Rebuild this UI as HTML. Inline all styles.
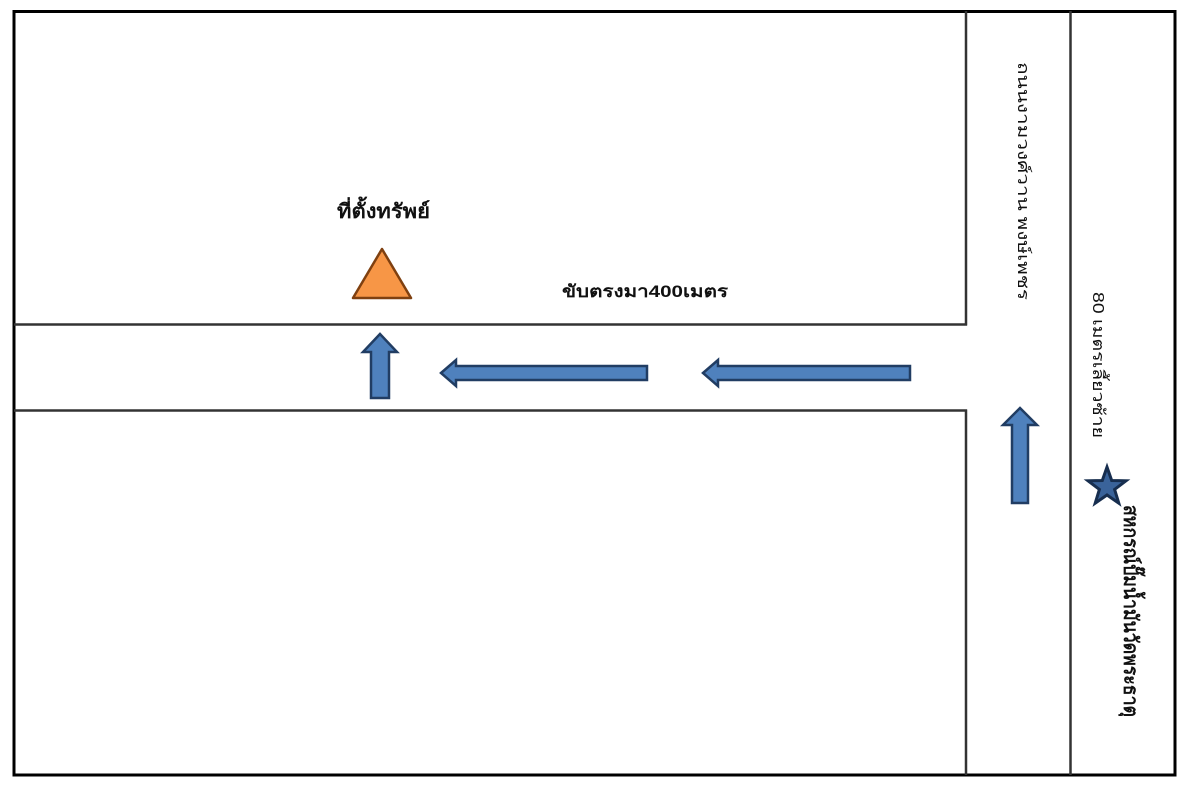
<!DOCTYPE html>
<html>
<head>
<meta charset="utf-8">
<style>
html,body{margin:0;padding:0;background:#fff;}
body{width:1194px;height:800px;overflow:hidden;}
svg{display:block;}
text{font-family:"Liberation Sans","Noto Sans CJK SC",sans-serif;fill:#111;}
</style>
</head>
<body>
<svg width="1194" height="800" viewBox="0 0 1194 800" xmlns="http://www.w3.org/2000/svg">
  <rect x="0" y="0" width="1194" height="800" fill="#fff"/>
  <!-- outer frame -->
  <rect x="14" y="11.5" width="1161" height="763.5" fill="none" stroke="#000" stroke-width="3"/>
  <!-- roads -->
  <g stroke="#333" stroke-width="2.5" fill="none">
    <line x1="14" y1="324.5" x2="967" y2="324.5"/>
    <line x1="14" y1="410.5" x2="967" y2="410.5"/>
    <line x1="966" y1="11" x2="966" y2="325.5"/>
    <line x1="966" y1="409.5" x2="966" y2="775"/>
    <line x1="1070.5" y1="11" x2="1070.5" y2="775"/>
  </g>

  <!-- arrows -->
  <g fill="#4f81bd" stroke="#213d63" stroke-width="2.5" stroke-linejoin="miter">
    <polygon points="380,334 397,352 389,352 389,398 371,398 371,352 363,352"/>
    <polygon points="441,373 456,360 456,366 647,366 647,380 456,380 456,386"/>
    <polygon points="703,373 718,360 718,366 910,366 910,380 718,380 718,386"/>
    <polygon points="1020,408 1037,425 1028,425 1028,503 1012,503 1012,425 1003,425"/>
  </g>

  <!-- triangle -->
  <polygon points="382,249 411,298 353,298" fill="#f79646" stroke="#7f4010" stroke-width="2.5" stroke-linejoin="round"/>

  <!-- star -->
  <polygon points="1107,467 1111.7,480.5 1126,480.8 1114.6,489.4 1118.8,503.2 1107,495 1095.2,503.2 1099.4,489.4 1088,480.8 1102.3,480.5" fill="#3a639a" stroke="#172e4f" stroke-width="3" stroke-linejoin="miter"/>

  <!-- labels -->
  <text x="337" y="218" font-size="20" font-weight="bold" textLength="93" lengthAdjust="spacingAndGlyphs">ที่ตั้งทรัพย์</text>
  <text x="562" y="297" font-size="17" font-weight="bold" textLength="166" lengthAdjust="spacingAndGlyphs">ขับตรงมา400เมตร</text>

  <!-- vertical labels (rotated clockwise) -->
  <text transform="translate(1018,62) rotate(90)" x="0" y="0" font-size="16" textLength="238" lengthAdjust="spacingAndGlyphs">ถนนงามวงศ์วาน พงษ์เพชร</text>
  <text transform="translate(1093,292) rotate(90)" x="0" y="0" font-size="16" textLength="146" lengthAdjust="spacingAndGlyphs">80 เมตรเลี้ยวซ้าย</text>
  <text transform="translate(1124,505) rotate(90)" x="0" y="0" font-size="20" font-weight="bold" textLength="212" lengthAdjust="spacingAndGlyphs">สหกรณ์ปั๊มน้ำมันวัดพระธาตุ</text>
</svg>
</body>
</html>
